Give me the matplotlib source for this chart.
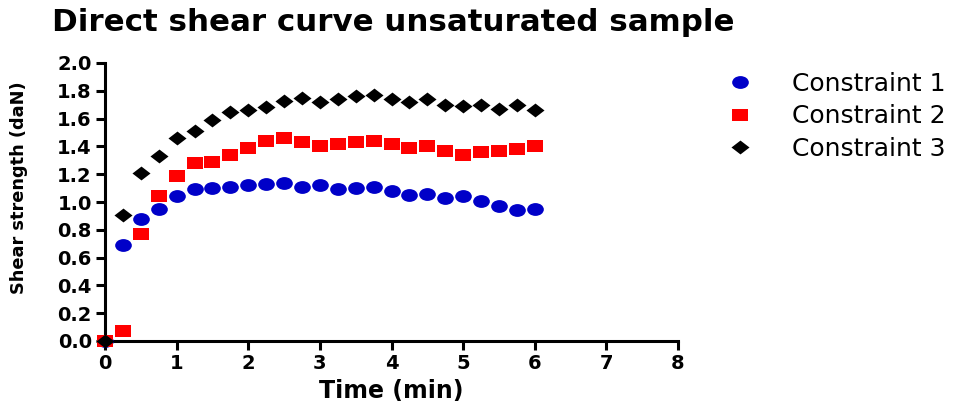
import matplotlib
matplotlib.use("Agg")
import matplotlib.pyplot as plt
from matplotlib.path import Path
from matplotlib.markers import MarkerStyle
from matplotlib.transforms import Affine2D

# data
time_min = [0.0, 0.25, 0.5, 0.75, 1.0, 1.25, 1.5, 1.75, 2.0, 2.25, 2.5, 2.75, 3.0,
            3.25, 3.5, 3.75, 4.0, 4.25, 4.5, 4.75, 5.0, 5.25, 5.5, 5.75, 6.0]
constraint_1 = [0.00, 0.69, 0.88, 0.95, 1.04, 1.09, 1.10, 1.11, 1.12, 1.13, 1.14, 1.11, 1.12,
                1.09, 1.10, 1.11, 1.08, 1.05, 1.06, 1.03, 1.04, 1.01, 0.97, 0.94, 0.95]
constraint_2 = [0.00, 0.07, 0.77, 1.04, 1.19, 1.28, 1.29, 1.34, 1.39, 1.44, 1.46, 1.43, 1.40,
                1.42, 1.43, 1.44, 1.42, 1.39, 1.40, 1.37, 1.34, 1.36, 1.37, 1.38, 1.40]
constraint_3 = [0.00, 0.91, 1.21, 1.33, 1.46, 1.51, 1.59, 1.65, 1.66, 1.68, 1.73, 1.75, 1.72,
                1.74, 1.76, 1.77, 1.74, 1.72, 1.74, 1.70, 1.69, 1.70, 1.67, 1.70, 1.66]
labels = ["Constraint 1", "Constraint 2", "Constraint 3"]
x_ticks = [0, 1, 2, 3, 4, 5, 6, 7, 8]
y_ticks = [0.0, 0.2, 0.4, 0.6, 0.8, 1.0, 1.2, 1.4, 1.6, 1.8, 2.0]

plt.rcParams['font.family'] = ['DejaVu Sans']

# the reference looks stretched sideways, so the markers are a bit wider than tall
ellipse = MarkerStyle(Path.unit_circle().transformed(Affine2D().scale(1.3, 1.0)))
rect = MarkerStyle(Path([(-1.25, -1), (1.25, -1), (1.25, 1), (-1.25, 1), (-1.25, -1)],
                        [1, 2, 2, 2, 79]))
diamond = MarkerStyle(Path([(0, -1), (1.3, 0), (0, 1), (-1.3, 0), (0, -1)],
                           [1, 2, 2, 2, 79]))

fig = plt.figure(figsize=(9.61, 4.12), dpi=100)
ax = fig.add_axes([105 / 961, 71 / 412, 573 / 961, 278 / 412])

series = [
    (constraint_1, ellipse, '#0000C8', 12),
    (constraint_2, rect, '#FF0000', 11.5),
    (constraint_3, diamond, '#000000', 13),
]
for (vals, mk, col, ms), lab in zip(series, labels):
    ax.plot(time_min, vals, linestyle='none', marker=mk, markersize=ms,
            color=col, markeredgewidth=0, label=lab, clip_on=False, zorder=3)

ax.set_xlim(0, 8)
ax.set_ylim(0, 2.0)
ax.set_xticks(x_ticks)
ax.set_yticks(y_ticks)
ax.set_yticklabels([f"{v:.1f}" for v in y_ticks])

for side in ['top', 'right']:
    ax.spines[side].set_visible(False)
for side in ['left', 'bottom']:
    ax.spines[side].set_linewidth(2.2)
ax.tick_params(axis='both', direction='out', length=6.5, width=2.2, pad=3)
for t in ax.get_xticklabels() + ax.get_yticklabels():
    t.set_fontsize(14)
    t.set_fontweight('bold')

ax.set_xlabel("Time (min)", fontsize=17, fontweight='bold', labelpad=4)
ax.set_ylabel("Shear strength (daN)", fontsize=12.8, fontweight='bold')
ax.yaxis.set_label_coords(-0.134, 0.553)

fig.text(52 / 961, 1 - 31 / 412, "Direct shear curve unsaturated sample",
         fontsize=22.2, fontweight='bold', ha='left', va='baseline')

ax.legend(loc='upper left', bbox_to_anchor=(722 / 961, 1 - 72 / 412),
          bbox_transform=fig.transFigure, frameon=False, fontsize=18,
          handlelength=1.4, handletextpad=1.4, labelspacing=0.33,
          borderaxespad=0, borderpad=0)

fig.savefig("out.png", dpi=100)
